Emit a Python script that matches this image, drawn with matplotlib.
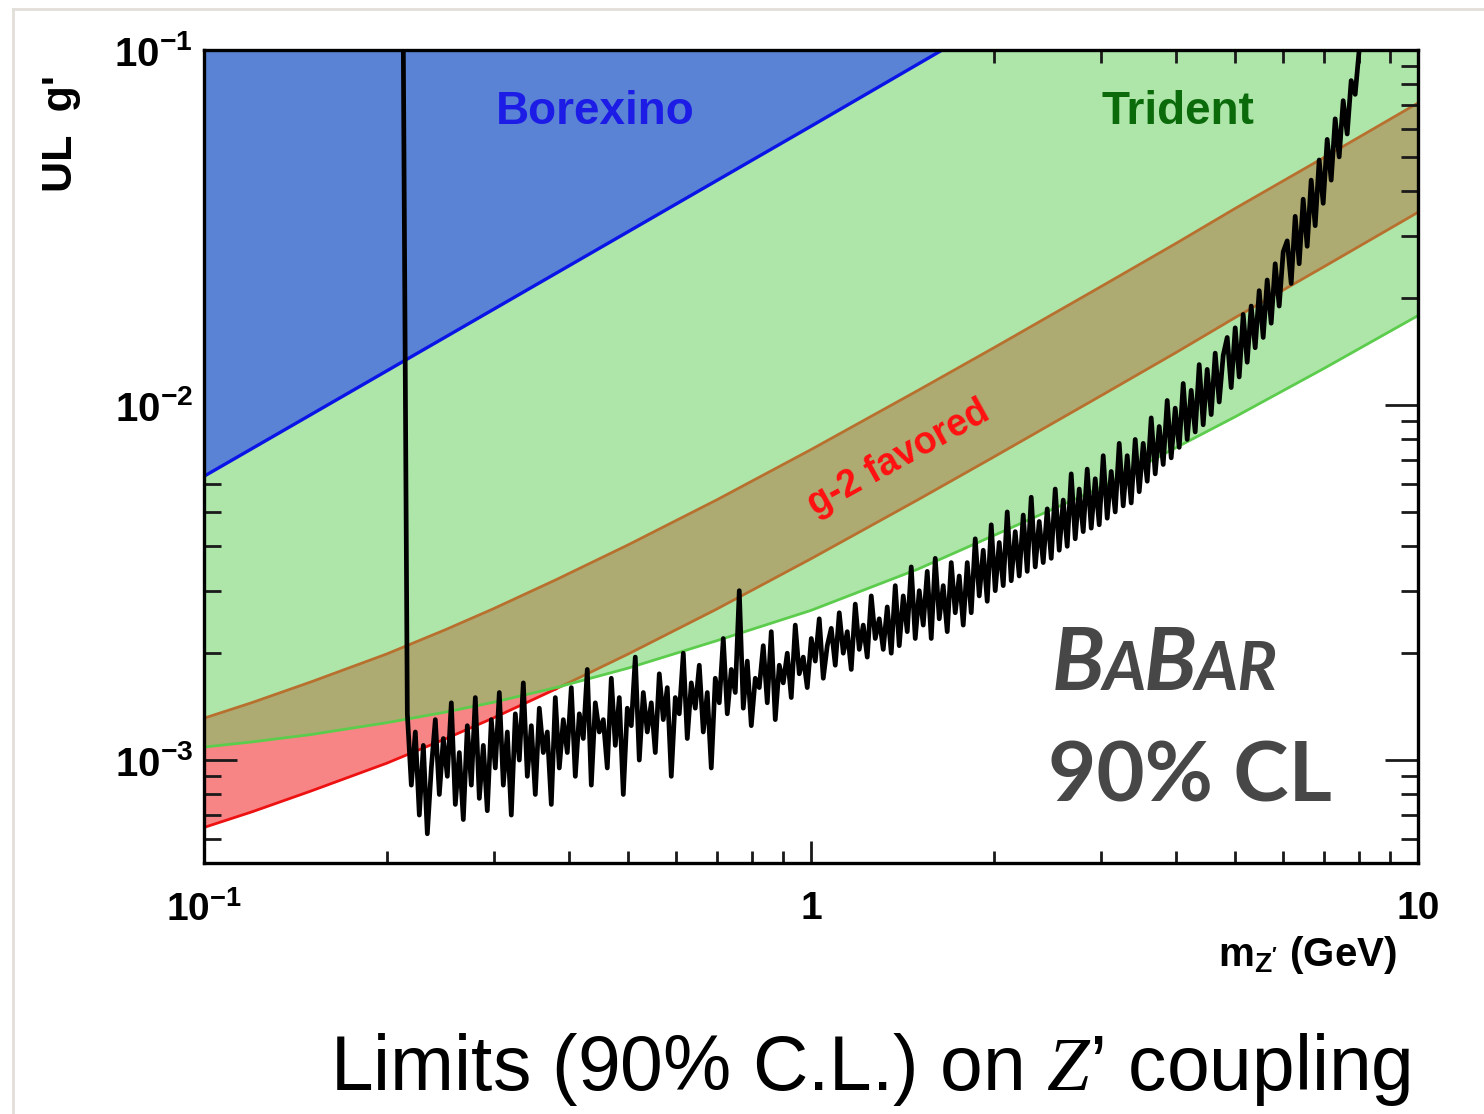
import numpy as np
import matplotlib
matplotlib.use("Agg")
from matplotlib import pyplot as plt
from matplotlib.lines import Line2D
from matplotlib.transforms import IdentityTransform
from matplotlib.ticker import NullFormatter, LogLocator

# --- data ---
# mass grid (GeV) for the smooth bands
band_m = [0.1, 0.12, 0.15, 0.2, 0.25, 0.3, 0.38, 0.5, 0.7, 1.0, 1.5, 2.0, 3.0, 4.0, 5.0, 7.0, 10.0]
# Trident exclusion, lower edge
trident_g = [1.088e-3, 1.125e-3, 1.18e-3, 1.274e-3, 1.365e-3, 1.455e-3, 1.60e-3, 1.816e-3, 2.17e-3,
             2.64e-3, 3.45e-3, 4.29e-3, 5.85e-3, 7.6e-3, 9.27e-3, 1.268e-2, 1.786e-2]
# g-2 favoured band
g2_hi = [1.312e-3, 1.452e-3, 1.66e-3, 1.99e-3, 2.33e-3, 2.67e-3, 3.22e-3, 4.04e-3, 5.41e-3,
         7.49e-3, 1.099e-2, 1.449e-2, 2.153e-2, 2.858e-2, 3.58e-2, 4.98e-2, 7.09e-2]
g2_lo = [6.46e-4, 7.15e-4, 8.18e-4, 9.80e-4, 1.148e-3, 1.315e-3, 1.586e-3, 1.99e-3, 2.665e-3,
         3.69e-3, 5.41e-3, 7.14e-3, 1.061e-2, 1.408e-2, 1.764e-2, 2.453e-2, 3.49e-2]
# Borexino exclusion, lower edge
borexino_m = [0.1, 1.0, 10.0]
borexino_g = [6.3e-3, 6.1e-2, 0.6]

# BaBar 90% CL upper limit scan, 0.213 - 8 GeV (units of 1e-3)
scan_m_lo, scan_m_hi = 0.213, 8.0
scan_g_e3 = [
    100,
    1.35, 0.85, 1.2, 0.7, 1.1, 0.62, 0.95, 1.3, 0.8, 1.15, 0.9, 1.45, 0.75, 1.05, 0.68, 1.25, 0.85, 1.5, 0.78, 1.1,
    0.72, 1.3, 0.95, 1.55, 0.85, 1.2, 0.7, 1.35, 1.0, 1.65, 0.9, 1.25, 0.8, 1.4, 1.05, 1.2, 0.75, 1.5, 0.95, 1.3,
    1.05, 1.6, 0.9, 1.35, 1.15, 1.8, 0.85, 1.45, 1.2, 1.3, 0.95, 1.7, 1.1, 1.5, 0.8, 1.4, 1.25, 1.95, 1.0, 1.55,
    1.2, 1.45, 1.05, 1.75, 1.3, 1.6, 0.9, 1.5, 1.35, 2.0, 1.15, 1.65, 1.4, 1.85, 1.2, 1.55, 0.95, 1.7, 1.45, 2.2,
    1.35, 1.8, 1.55, 3.0, 1.4, 1.9, 1.25, 1.7, 1.6, 2.1, 1.45, 2.3, 1.3, 1.85, 1.65, 2.0, 1.5, 2.4, 1.75, 1.95,
    1.6, 2.2, 1.9, 2.5, 1.7, 2.1, 2.35, 1.85, 2.6, 2.0, 2.3, 1.8, 2.75, 2.05, 2.4, 1.95, 2.9, 2.2, 2.5, 2.05,
    2.7, 2.0, 3.1, 2.1, 2.9, 2.3, 3.5, 2.2, 3.0, 2.4, 3.4, 2.2, 3.7, 2.5, 3.1, 2.3, 3.6, 2.6, 3.3, 2.4,
    3.6, 2.6, 4.2, 2.9, 3.9, 2.8, 4.6, 3.0, 4.1, 3.1, 5.0, 3.2, 4.4, 3.3, 4.9, 3.4, 5.5, 3.5, 4.7, 3.6,
    5.1, 3.7, 5.8, 3.9, 5.4, 4.0, 6.4, 4.2, 5.8, 4.4, 6.6, 4.5, 6.2, 4.6, 7.2, 4.8, 6.5, 5.0, 7.8, 5.2,
    7.2, 5.3, 8.0, 5.7, 7.8, 6.1, 9.2, 6.4, 8.7, 6.8, 10.3, 7.1, 9.8, 7.6, 11.5, 8.0, 11.0, 8.4, 13.0, 8.8,
    12.6, 9.4, 14.0, 10.2, 13.8, 15.5, 11.2, 16.5, 12.0, 18.0, 13.2, 19.0, 14.5, 21.0, 15.5, 22.5, 17.0, 25.0, 19.0, 27.0,
    29, 22, 34, 25, 38, 28, 43, 32, 49, 37, 56, 43, 64, 50, 72, 58, 82, 75, 100,
]

W, H = 1484, 1114


def px(x, y):
    # image pixel (from top-left) -> figure fraction
    return x / W, 1 - y / H


if __name__ == "__main__":
    plt.rcParams['font.family'] = ['Liberation Sans', 'DejaVu Sans']
    plt.rcParams['mathtext.fontset'] = 'custom'
    plt.rcParams['mathtext.bf'] = 'Liberation Sans:bold'
    plt.rcParams['mathtext.rm'] = 'Liberation Sans'
    plt.rcParams['mathtext.it'] = 'Liberation Serif:italic'
    plt.rcParams['mathtext.default'] = 'bf'

    fig = plt.figure(figsize=(W / 100, H / 100), dpi=100)
    ax = fig.add_axes([204 / W, 1 - 863 / H, (1418 - 204) / W, (863 - 50) / H])

    m = np.array(band_m)
    tri = np.array(trident_g)
    hi = np.array(g2_hi)
    lo = np.array(g2_lo)
    top = 1.0
    n_red = 7  # g-2 lower edge below Trident up to ~0.38 GeV

    # Trident region
    ax.fill_between(m, tri, top, color='#aee6aa', lw=0, zorder=1)
    # g-2 band (brown where inside Trident, red where below)
    ax.fill_between(m, lo, hi, color='#aeab72', lw=0, zorder=1.1)
    ax.fill_between(m, lo, tri, where=lo < tri * 1.001, interpolate=True,
                    color='#f88585', lw=0, zorder=1.2)
    ax.plot(m, hi, color='#b8702f', lw=2, zorder=1.5)
    ax.plot(m[n_red - 1:], lo[n_red - 1:], color='#b8702f', lw=2, zorder=1.5)
    ax.plot(m[:n_red], lo[:n_red], color='#ee1111', lw=2, zorder=1.6)
    ax.plot(m, tri, color='#5ccc4c', lw=2, zorder=1.7)
    # Borexino region
    ax.fill_between(borexino_m, borexino_g, top, color='#5a83d5', lw=0, zorder=1.8)
    ax.plot(borexino_m, borexino_g, color='#0a14e6', lw=2.4, zorder=1.9)

    # BaBar scan
    scan_m = np.geomspace(scan_m_lo, scan_m_hi, len(scan_g_e3))
    scan_g = np.array(scan_g_e3) * 1e-3
    ax.plot(scan_m, scan_g, color='k', lw=3.4, zorder=2)

    ax.set_xscale('log')
    ax.set_yscale('log')
    ax.set_xlim(0.1, 10)
    ax.set_ylim(5.13e-4, 0.1)

    ax.set_xticks([0.1, 1, 10], labels=[r'$10^{-1}$', '1', '10'])
    ax.set_yticks([1e-3, 1e-2, 1e-1], labels=[r'$10^{-3}$', r'$10^{-2}$', r'$10^{-1}$'])
    ax.xaxis.set_minor_locator(LogLocator(subs=np.arange(2, 10)))
    ax.yaxis.set_minor_locator(LogLocator(subs=np.arange(2, 10)))
    ax.xaxis.set_minor_formatter(NullFormatter())
    ax.yaxis.set_minor_formatter(NullFormatter())
    ax.tick_params(which='both', direction='in', top=True, right=True, width=2, color='#1a1a1a')
    ax.tick_params(axis='x', which='major', length=16, pad=20, labelsize=28)
    ax.tick_params(axis='x', which='minor', length=9)
    ax.tick_params(axis='y', which='major', length=24, pad=8, labelsize=29)
    ax.tick_params(axis='y', which='minor', length=12)
    for lab in ax.get_xticklabels() + ax.get_yticklabels():
        lab.set_fontweight('bold')
    for sp in ax.spines.values():
        sp.set_linewidth(2.4)
        sp.set_zorder(5)

    # labels in the plot
    ax.text(*px(595, 112), 'Borexino', transform=fig.transFigure, fontsize=33,
            fontweight='bold', color='#1c1ce6', ha='center', va='center', zorder=6)
    ax.text(*px(1178, 112), 'Trident', transform=fig.transFigure, fontsize=33,
            fontweight='bold', color='#0b6b0b', ha='center', va='center', zorder=6)
    ax.text(*px(899, 458), 'g-2 favored', transform=fig.transFigure, fontsize=27,
            fontweight='bold', color='#ff1010', ha='center', va='center',
            rotation=29, rotation_mode='anchor', zorder=6)

    # axis titles
    fig.text(*px(61, 134), "UL  g'", fontsize=31, fontweight='bold',
             rotation=90, ha='center', va='center')
    fig.text(*px(1397, 966), r"m$_{Z'}$ (GeV)", fontsize=29, fontweight='bold',
             ha='right', va='baseline')

    # BaBar small caps logo
    renderer = fig.canvas.get_renderer()
    x = 1052
    for s, size in [('B', 62), ('A', 48), ('B', 62), ('AR', 48)]:
        t = fig.text(x, H - 690, s, transform=IdentityTransform(), fontsize=size,
                     family=['Lato', 'DejaVu Sans'], fontweight='bold', style='italic',
                     color='#474747', ha='left', va='baseline')
        x += t.get_window_extent(renderer).width - 2
    fig.text(1048, H - 802, '90% CL', transform=IdentityTransform(), fontsize=60,
             family=['Lato', 'DejaVu Sans'], fontweight='bold', color='#474747',
             ha='left', va='baseline')

    # caption
    fig.text(330, H - 1090, r"Limits (90% C.L.) on $\mathit{Z}$’ coupling",
             transform=IdentityTransform(), fontsize=55.3, fontweight='normal',
             color='k', ha='left', va='baseline')

    # slide frame
    fig.add_artist(Line2D([13 / W, 1], [1 - 9 / H, 1 - 9 / H], transform=fig.transFigure,
                          color='#e2dfdb', lw=2))
    fig.add_artist(Line2D([13 / W, 13 / W], [0, 1 - 9 / H], transform=fig.transFigure,
                          color='#e2dfdb', lw=2))

    fig.savefig('out.png', dpi=100)
